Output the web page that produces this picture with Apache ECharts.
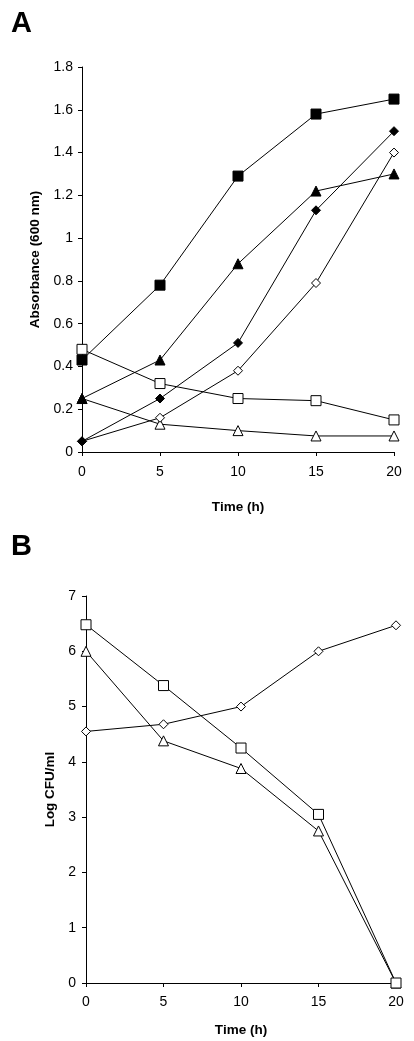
<!DOCTYPE html>
<html>
<head>
<meta charset="utf-8">
<script src="https://cdn.jsdelivr.net/npm/echarts@6/dist/echarts.min.js"></script>
<style>
html,body{margin:0;padding:0;background:#fff;}
#chart{width:414px;height:1041px;}
</style>
</head>
<body>
<div id="chart"></div>
<script>
// Panel A: Absorbance (600 nm) vs time
const timeA = [0, 5, 10, 15, 20];
const aFilledSquare = [0.43, 0.78, 1.29, 1.58, 1.65];
const aFilledTriangle = [0.25, 0.43, 0.88, 1.22, 1.30];
const aFilledDiamond = [0.05, 0.25, 0.51, 1.13, 1.50];
const aOpenDiamond = [0.05, 0.16, 0.38, 0.79, 1.40];
const aOpenSquare = [0.48, 0.32, 0.25, 0.24, 0.15];
const aOpenTriangle = [0.25, 0.13, 0.10, 0.075, 0.075];

// Panel B: Log CFU/ml vs time
const timeB = [0, 5, 10, 15, 20];
const bOpenSquare = [6.48, 5.38, 4.25, 3.05, 0];
const bOpenTriangle = [6.0, 4.38, 3.88, 2.75, 0];
const bOpenDiamond = [4.55, 4.68, 5.0, 6.0, 6.47];

const FONT = '"Liberation Sans", Arial, sans-serif';

function pairs(xs, ys){ return xs.map((x,i)=>[x, ys[i]]); }

function mk(name, grid, xs, ys, symbol, size, filled){
  return {
    name: name, type: 'line', xAxisIndex: grid, yAxisIndex: grid,
    data: pairs(xs, ys),
    symbol: symbol, symbolSize: size,
    showAllSymbol: true,
    lineStyle: {color: '#000', width: 1},
    itemStyle: {color: filled ? '#000' : '#fff', borderColor: '#000', borderWidth: 1},
    emphasis: {disabled: true},
    animation: false,
    z: 3
  };
}

function axis(extra, labelMargin){
  return Object.assign({
    axisLine: {show: true, lineStyle: {color: '#000', width: 1}},
    axisTick: {show: true, length: 4, lineStyle: {color: '#000'}},
    axisLabel: {color: '#000', fontFamily: FONT, fontSize: 14, margin: labelMargin},
    splitLine: {show: false},
    nameTextStyle: {color: '#000', fontFamily: FONT, fontSize: 13.5, fontWeight: 'bold'}
  }, extra);
}

const option = {
  backgroundColor: '#fff',
  animation: false,
  title: [
    {text: 'A', left: 6, top: 4, textStyle: {fontFamily: FONT, fontSize: 29, fontWeight: 'bold', color: '#000'}},
    {text: 'B', left: 6, top: 527, textStyle: {fontFamily: FONT, fontSize: 29, fontWeight: 'bold', color: '#000'}}
  ],
  grid: [
    {left: 82, right: 20, top: 67, bottom: 589},
    {left: 86, right: 18, top: 596, bottom: 58}
  ],
  xAxis: [
    axis({gridIndex: 0, type: 'value', min: 0, max: 20, interval: 5,
      name: 'Time (h)', nameLocation: 'middle', nameGap: 48}, 13),
    axis({gridIndex: 1, type: 'value', min: 0, max: 20, interval: 5,
      name: 'Time (h)', nameLocation: 'middle', nameGap: 40}, 12)
  ],
  yAxis: [
    axis({gridIndex: 0, type: 'value', min: 0, max: 1.8, interval: 0.2,
      name: 'Absorbance (600 nm)', nameLocation: 'middle', nameGap: 38, nameRotate: 90}, 9),
    axis({gridIndex: 1, type: 'value', min: 0, max: 7, interval: 1,
      name: 'Log CFU/ml', nameLocation: 'middle', nameGap: 28, nameRotate: 90}, 10)
  ],
  series: [
    mk('A filled square', 0, timeA, aFilledSquare, 'rect', 10, true),
    mk('A open square', 0, timeA, aOpenSquare, 'rect', 10, false),
    mk('A open triangle', 0, timeA, aOpenTriangle, 'triangle', 10, false),
    mk('A filled triangle', 0, timeA, aFilledTriangle, 'triangle', 10, true),
    mk('A open diamond', 0, timeA, aOpenDiamond, 'diamond', 9, false),
    mk('A filled diamond', 0, timeA, aFilledDiamond, 'diamond', 9, true),
    mk('B open triangle', 1, timeB, bOpenTriangle, 'triangle', 10, false),
    mk('B open square', 1, timeB, bOpenSquare, 'rect', 10, false),
    mk('B open diamond', 1, timeB, bOpenDiamond, 'diamond', 9, false)
  ]
};

const chart = echarts.init(document.getElementById('chart'), null, {renderer: 'canvas'});
chart.setOption(option);
</script>
</body>
</html>
